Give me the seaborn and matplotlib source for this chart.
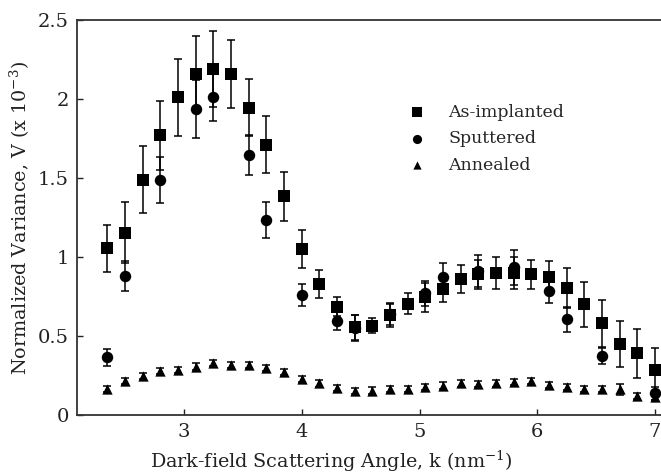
import numpy as np
import pandas as pd
import matplotlib
matplotlib.use("Agg")
import matplotlib.pyplot as plt
import seaborn as sns

# Dark-field scattering angle k (nm^-1) and normalized variance V (x 10^-3)
k_implanted = [2.35, 2.50, 2.65, 2.80, 2.95, 3.10, 3.25, 3.40, 3.55, 3.70, 3.85,
               4.00, 4.15, 4.30, 4.45, 4.60, 4.75, 4.90, 5.05, 5.20, 5.35, 5.50,
               5.65, 5.80, 5.95, 6.10, 6.25, 6.40, 6.55, 6.70, 6.85, 7.00]
v_implanted = [1.055, 1.155, 1.49, 1.77, 2.01, 2.16, 2.19, 2.16, 1.945, 1.71, 1.385,
               1.05, 0.83, 0.685, 0.555, 0.565, 0.63, 0.705, 0.745, 0.80, 0.86, 0.89,
               0.90, 0.90, 0.89, 0.875, 0.805, 0.70, 0.58, 0.447, 0.39, 0.287]
e_implanted = [0.15, 0.19, 0.21, 0.22, 0.245, 0.24, 0.24, 0.215, 0.18, 0.18, 0.155,
               0.12, 0.087, 0.06, 0.08, 0.047, 0.07, 0.065, 0.09, 0.085, 0.087, 0.09,
               0.10, 0.10, 0.09, 0.10, 0.125, 0.14, 0.15, 0.145, 0.155, 0.135]

k_sputtered = [2.35, 2.50, 2.80, 3.10, 3.25, 3.55, 3.70, 4.00, 4.30, 4.45, 4.75,
               5.05, 5.20, 5.50, 5.80, 6.10, 6.25, 6.55, 7.00]
v_sputtered = [0.365, 0.88, 1.487, 1.935, 2.01, 1.645, 1.234, 0.761, 0.597, 0.55, 0.64,
               0.77, 0.871, 0.91, 0.935, 0.787, 0.606, 0.375, 0.137]
e_sputtered = [0.055, 0.095, 0.148, 0.185, 0.15, 0.125, 0.114, 0.07, 0.06, 0.08, 0.07,
               0.08, 0.09, 0.10, 0.11, 0.08, 0.08, 0.05, 0.04]

k_annealed = k_implanted
v_annealed = [0.165, 0.217, 0.248, 0.279, 0.285, 0.306, 0.331, 0.316, 0.318, 0.298, 0.272,
              0.23, 0.20, 0.169, 0.152, 0.155, 0.163, 0.165, 0.179, 0.186, 0.20, 0.195,
              0.20, 0.211, 0.215, 0.19, 0.179, 0.165, 0.163, 0.163, 0.12, 0.112]
e_annealed = [0.02, 0.02, 0.02, 0.02, 0.02, 0.02, 0.02, 0.02, 0.02, 0.02, 0.02,
              0.02, 0.02, 0.02, 0.02, 0.02, 0.02, 0.02, 0.02, 0.02, 0.02, 0.02,
              0.02, 0.02, 0.02, 0.02, 0.02, 0.02, 0.02, 0.035, 0.02, 0.02]

samples = ["As-implanted", "Sputtered", "Annealed"]
x_ticks = [3, 4, 5, 6, 7]
y_ticks = [0, 0.5, 1, 1.5, 2, 2.5]
y_ticklabels = ["0", "0.5", "1", "1.5", "2", "2.5"]

frames = []
for name, k, v, e in [
    (samples[0], k_implanted, v_implanted, e_implanted),
    (samples[1], k_sputtered, v_sputtered, e_sputtered),
    (samples[2], k_annealed, v_annealed, e_annealed),
]:
    frames.append(pd.DataFrame({"k": k, "V": v, "err": e, "sample": name}))
df = pd.concat(frames, ignore_index=True)

sns.set_theme(style="ticks")
plt.rcParams["font.family"] = ["DejaVu Serif"]
plt.rcParams["mathtext.fontset"] = "dejavuserif"

fig = plt.figure(figsize=(6.61, 4.73), dpi=100)
ax = fig.add_axes([77 / 661, 58 / 473, 584 / 661, 395 / 473])

# error bars first, markers on top
for name in samples:
    sub = df[df["sample"] == name]
    ax.errorbar(sub["k"], sub["V"], yerr=sub["err"], fmt="none",
                ecolor="black", elinewidth=1.1, capsize=2.6, capthick=1.1, zorder=2)

marker_map = {"As-implanted": "s", "Sputtered": "o", "Annealed": "^"}
size_map = {"As-implanted": 80, "Sputtered": 68, "Annealed": 55}
for name in samples:
    sub = df[df["sample"] == name]
    sns.scatterplot(data=sub, x="k", y="V", marker=marker_map[name],
                    s=size_map[name], color="black", edgecolor="black",
                    linewidth=0, label=name, ax=ax, zorder=3)

ax.set_xlim(2.091, 7.051)
ax.set_ylim(0, 2.5)
ax.set_xticks(x_ticks)
ax.set_xticklabels([str(t) for t in x_ticks])
ax.set_yticks(y_ticks)
ax.set_yticklabels(y_ticklabels)
ax.tick_params(direction="in", length=4, width=1.0, colors="#222222",
               labelsize=14, labelcolor="#222222", pad=6)

for side in ["left", "bottom", "top"]:
    ax.spines[side].set_color("#333333")
    ax.spines[side].set_linewidth(1.3)
ax.spines["right"].set_visible(False)

ax.set_xlabel(r"Dark-field Scattering Angle, k (nm$^{-1}$)", fontsize=13.8,
              color="#222222")
ax.xaxis.set_label_coords(0.436, -0.086)
ax.set_ylabel(r"Normalized Variance, V (x 10$^{-3}$)", fontsize=13.8,
              color="#222222", labelpad=4)

handles, labels = ax.get_legend_handles_labels()
ax.legend(handles, labels, loc="upper left", bbox_to_anchor=(0.553, 0.81),
          frameon=False, fontsize=12.5, borderpad=0, handlelength=1.0,
          handletextpad=1.3, labelspacing=0.55, markerscale=0.8)

fig.savefig("out.png", dpi=100)
